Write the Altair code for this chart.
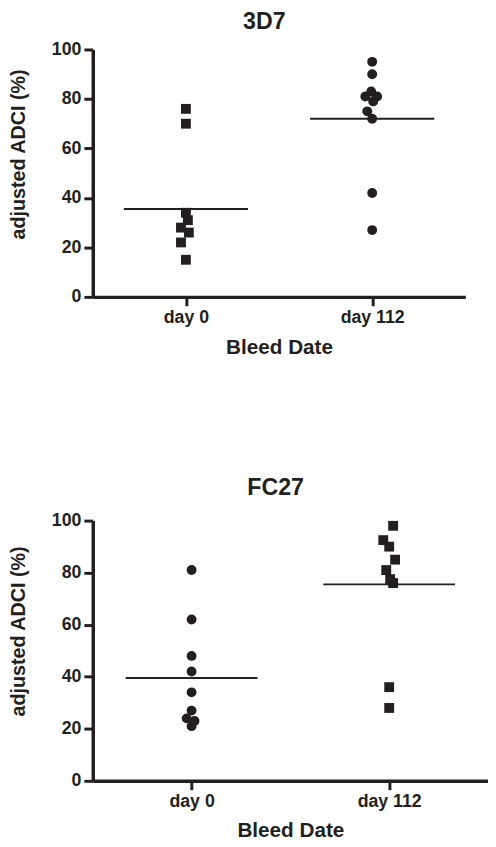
import altair as alt
import pandas as pd

categories = ["day 0", "day 112"]

# Panel 3D7
d7_day0 = [76, 70, 34, 31, 28, 26, 22, 15]
d7_day0_jitter = [0, 0, 0, 2, -5, 3, -5, 0]
d7_day112 = [95, 90, 83, 81, 81, 79, 75, 72, 42, 27]
d7_day112_jitter = [0, 0, -1, 5, -7, 1, -5, 0, 0, 0]
d7_mean = [35.5, 72]

# Panel FC27
fc_day0 = [81, 62, 48, 42, 34, 27, 24, 23, 21]
fc_day0_jitter = [0, 0, 0, 0, 0, 0, -5, 3, 0]
fc_day112 = [98, 92.5, 90, 85, 81, 77.5, 76, 36, 28]
fc_day112_jitter = [4, -6, 0, 6, -3, 1, 4, 0, 0]
fc_mean = [39.5, 75.5]

C = "#231f20"
F = "Liberation Sans"


def points_df(v0, j0, v1, j1):
    return pd.DataFrame({
        "day": [categories[0]] * len(v0) + [categories[1]] * len(v1),
        "value": v0 + v1,
        "jitter": j0 + j1,
    })


def panel(title, df, means, shapes, w, h, title_offset, title_y, xt_pad):
    x = alt.X("day:N", sort=categories,
              scale=alt.Scale(type="point", domain=categories, padding=0.5),
              axis=alt.Axis(title="Bleed Date", labelAngle=0, titleFontSize=21,
                            titlePadding=xt_pad, labelPadding=3))
    y = alt.Y("value:Q", scale=alt.Scale(domain=[0, 100], nice=False, zero=True),
              axis=alt.Axis(title="adjusted ADCI (%)", values=[0, 20, 40, 60, 80, 100],
                            titleFontSize=20, titleAngle=-90, titleBaseline="middle",
                            titleX=-75, titleY=title_y, labelPadding=3))
    pts = alt.Chart(df).mark_point(filled=True, opacity=1, color=C, size=100).encode(
        x=x, y=y,
        xOffset=alt.XOffset("jitter:Q", scale=None),
        shape=alt.Shape("day:N", scale=alt.Scale(domain=categories, range=shapes), legend=None),
    )
    mdf = pd.DataFrame({"day": categories, "value": means})
    mean = alt.Chart(mdf).mark_tick(color=C, opacity=1, thickness=2, size=w / 3,
                                    orient="horizontal").encode(
        x=alt.X("day:N", sort=categories), y=alt.Y("value:Q"))
    return alt.layer(pts, mean).resolve_scale(shape="independent").properties(
        width=w, height=h,
        title=alt.TitleParams(title, fontSize=23.5, font=F, fontWeight="bold", color=C,
                              offset=title_offset, dx=-15, anchor="middle"),
    )


top = panel("3D7", points_df(d7_day0, d7_day0_jitter, d7_day112, d7_day112_jitter),
            d7_mean, ["square", "circle"], 378, 251, 7, 106, 10)
bottom = panel("FC27", points_df(fc_day0, fc_day0_jitter, fc_day112, fc_day112_jitter),
               fc_mean, ["circle", "square"], 401, 264, 12, 112, 10)

chart = alt.vconcat(top, bottom, spacing=121).resolve_scale(shape="independent").properties(
    padding={"top": -4, "bottom": -4, "left": 0, "right": 0}
).configure_view(stroke=None).configure_axis(
    grid=False, domainColor=C, domainWidth=3.5, tickColor=C, tickWidth=3, tickSize=9,
    labelFont=F, labelFontWeight="bold", labelFontSize=18, labelColor=C,
    titleFont=F, titleFontWeight="bold", titleColor=C,
).configure_title(font=F)

chart.save("out.html", embed_options={"renderer": "svg", "actions": False})
